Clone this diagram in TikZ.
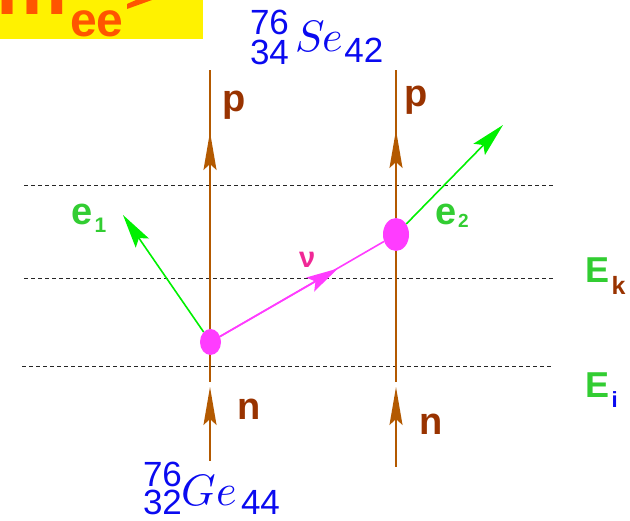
\documentclass[tikz,border=0pt]{standalone}
\usepackage{fontspec}
\setmainfont{Liberation Sans}
\newfontfamily\lmmath{latinmodern-math.otf}
\usetikzlibrary{arrows.meta,shapes.geometric}
\definecolor{lbrown}{RGB}{179,89,0}
\definecolor{dbrown}{RGB}{153,51,0}
\definecolor{lgreen}{RGB}{0,240,0}
\definecolor{tgreen}{RGB}{50,205,50}
\definecolor{mag}{RGB}{255,60,255}
\definecolor{nupink}{RGB}{240,40,150}
\definecolor{nblue}{RGB}{10,10,240}
\definecolor{orng}{RGB}{255,85,0}
\newcommand\fsz[1]{\fontsize{#1}{#1}\selectfont}
\begin{document}
\begin{tikzpicture}[x=1pt,y=-1pt,
  lbl/.style={inner sep=0pt, outer sep=0pt, anchor=base west},
  nucline/.style={draw=lbrown, line width=1.8pt},
  nucarrow/.style={nucline, -{Stealth[length=38pt,width=13pt,inset=6pt]}},
  level/.style={draw=black!85, line width=0.9pt, dash pattern=on 4pt off 3pt},
  vertexdot/.style={ellipse, fill=mag, inner sep=0pt},
  eline/.style={draw=lgreen, line width=1.6pt, -{Stealth[length=34pt,width=16pt,inset=6pt]}},
  nuline/.style={draw=mag, line width=1.6pt},
  nuarrow/.style={nuline, -{Stealth[length=32pt,width=16pt,inset=6pt]}}
]
\useasboundingbox (0,0) rectangle (630,521);

% title box (cut off)
\fill[yellow] (0,0) rectangle (203,39);
\node[lbl, text=orng, font=\bfseries\fsz{80}] (m) at (-3,15) {m};
\node[lbl, text=orng, font=\bfseries\fsz{48}] (ee) at (70,37) {ee};
\fill[orng] (127,9) -- (152,0) -- (136,0) -- (127,4) -- cycle;

% energy levels
\coordinate (l1a) at (24,185); \coordinate (l1b) at (553,185);
\coordinate (l2a) at (24,278); \coordinate (l2b) at (553,278);
\coordinate (l3a) at (22,366); \coordinate (l3b) at (553,366);
\draw[level] (l1a) -- (l1b);
\draw[level] (l2a) -- (l2b);
\draw[level] (l3a) -- (l3b);

% left nucleon line
\coordinate (Ltop) at (210,70);
\coordinate (Lptip) at (210,132);
\coordinate (Lgap) at (210,382);
\coordinate (Lntip) at (210,387);
\coordinate (Lbot) at (210,461);
\draw[nucline] (Lgap) -- (Ltop);
\draw[nucarrow] (Lgap) -- (Lptip);
\draw[nucarrow] (Lbot) -- (Lntip);

% right nucleon line
\coordinate (Rtop) at (396,70);
\coordinate (Rptip) at (396,130);
\coordinate (Rgap) at (396,382);
\coordinate (Rntip) at (396,387);
\coordinate (Rbot) at (396,467);
\draw[nucline] (Rgap) -- (Rtop);
\draw[nucarrow] (Rgap) -- (Rptip);
\draw[nucarrow] (Rbot) -- (Rntip);

% vertices
\node[vertexdot, minimum width=21pt, minimum height=26pt] (d1) at (210.5,342) {};
\node[vertexdot, minimum width=26pt, minimum height=33pt] (d2) at (396,234.5) {};

% electrons
\coordinate (e1tip) at (123,215);
\coordinate (e2tip) at (503,125);
\draw[eline] (d1) -- (e1tip);
\draw[eline] (d2) -- (e2tip);

% neutrino
\coordinate (nutip) at (338,268.5);
\draw[nuline] (d1) -- (d2);
\draw[nuarrow] (d1) -- (nutip);

% labels
\node[lbl, text=dbrown, font=\bfseries\fsz{38}] (pL) at (222,112) {p};
\node[lbl, text=dbrown, font=\bfseries\fsz{38}] (pR) at (404,107) {p};
\node[lbl, text=dbrown, font=\bfseries\fsz{38}] (nL) at (237,420) {n};
\node[lbl, text=dbrown, font=\bfseries\fsz{38}] (nR) at (419,435) {n};
\node[lbl, text=tgreen, font=\bfseries\fsz{38}] (e1) at (71.5,225) {e\kern2pt\raisebox{-8pt}{\fsz{21}1}};
\node[lbl, text=tgreen, font=\bfseries\fsz{38}] (e2) at (435,225) {e\kern2pt\raisebox{-3pt}{\fsz{19}2}};
\node[lbl, text=nupink, font=\bfseries\fsz{29}] (nu) at (299,268) {ν};
\node[lbl, text=tgreen, font=\bfseries\fsz{36}] (Ek) at (585.5,283) {E\kern2pt\textcolor{dbrown}{\raisebox{-12pt}{\fsz{25}k}}};
\node[lbl, text=tgreen, font=\bfseries\fsz{36}] (Ei) at (585.5,398) {E\kern2pt\textcolor{nblue}{\raisebox{-10pt}{\fsz{22}i}}};

% nuclei
\node[lbl, text=nblue] (Se) at (250,52) {\fsz{35}\makebox[0pt][l]{\raisebox{17pt}{76}}\raisebox{-13pt}{34}\kern7pt{\lmmath\fsz{44}𝑆𝑒}\kern1pt\raisebox{-11pt}{42}};
\node[lbl, text=nblue] (Ge) at (143,506) {\fsz{35}\makebox[0pt][l]{\raisebox{19pt}{76}}\raisebox{-9pt}{32}\kern0pt{\lmmath\fsz{44}𝐺𝑒}\kern4pt\raisebox{-9pt}{44}};
\end{tikzpicture}
\end{document}
